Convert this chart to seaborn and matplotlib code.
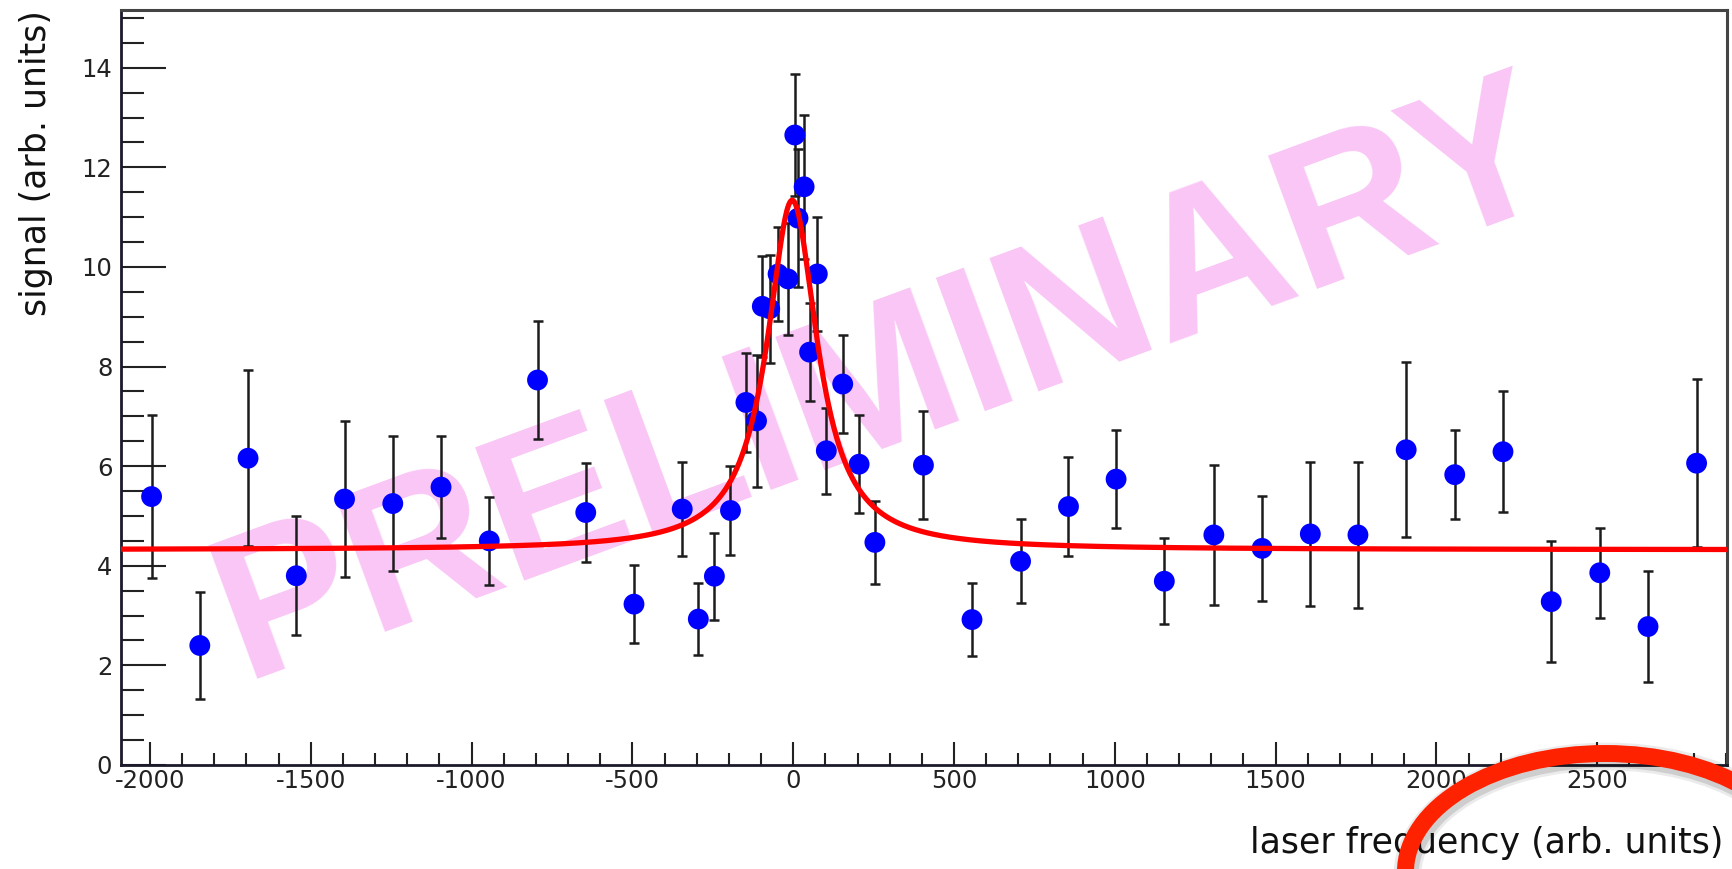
import numpy as np
import matplotlib
matplotlib.use("Agg")
import matplotlib.pyplot as plt
from matplotlib.patches import Ellipse
from matplotlib.ticker import MultipleLocator
import pandas as pd
import seaborn as sns

# ---------------- data ----------------
freq = [-1995, -1845, -1695, -1545, -1395, -1245, -1095, -945, -795, -645,
        -495, -345, -295, -245, -195, -147, -114, -96, -73, -47,
        -16, 5, 15, 34, 51, 75, 103, 154, 205, 254,
        405, 556, 707, 856, 1004, 1154, 1308, 1458, 1608, 1756,
        1906, 2057, 2207, 2357, 2508, 2658, 2809]
signal = [5.39, 2.40, 6.16, 3.80, 5.34, 5.25, 5.58, 4.50, 7.73, 5.07,
          3.23, 5.14, 2.93, 3.79, 5.11, 7.28, 6.91, 9.21, 9.16, 9.86,
          9.76, 12.65, 10.98, 11.61, 8.29, 9.86, 6.31, 7.65, 6.04, 4.47,
          6.02, 2.92, 4.09, 5.19, 5.74, 3.69, 4.62, 4.35, 4.64, 4.62,
          6.33, 5.83, 6.29, 3.28, 3.86, 2.78, 6.06]
signal_err = [1.63, 1.07, 1.77, 1.19, 1.56, 1.36, 1.02, 0.89, 1.19, 1.00,
              0.78, 0.95, 0.73, 0.87, 0.89, 1.00, 1.32, 1.02, 1.08, 0.94,
              1.13, 1.23, 1.39, 1.45, 0.98, 1.15, 0.86, 0.98, 0.98, 0.83,
              1.08, 0.74, 0.84, 0.99, 0.99, 0.86, 1.40, 1.05, 1.45, 1.46,
              1.76, 0.89, 1.21, 1.22, 0.90, 1.12, 1.69]

# Lorentzian fit parameters
fit_center = -3.0
fit_hwhm = 95.0
fit_amplitude = 7.02
fit_baseline = 4.32

x_ticks = [-2000, -1500, -1000, -500, 0, 500, 1000, 1500, 2000, 2500]
y_ticks = [0, 2, 4, 6, 8, 10, 12, 14]
x_range = (-2091, 2902)
y_range = (0, 15.16)

x_label = "laser frequency (arb. units)"
y_label = "signal (arb. units)"
watermark = "PRELIMINARY"

# ---------------- style ----------------
sns.set_theme(style="white")
plt.rcParams["font.family"] = ["DejaVu Sans"]
plt.rcParams["axes.unicode_minus"] = False

W_PX, H_PX = 1732, 869
fig = plt.figure(figsize=(W_PX / 100, H_PX / 100), dpi=100)
fig.patch.set_facecolor("white")

ax_l, ax_r, ax_t, ax_b = 120.7, 1726.5, 10.0, 765.0
ax = fig.add_axes([ax_l / W_PX, 1 - ax_b / H_PX, (ax_r - ax_l) / W_PX, (ax_b - ax_t) / H_PX])
ax.set_facecolor("white")

# watermark (behind everything)
wm_color = "#f9c6f6"
ax.text(243.0 / W_PX, 1 - 679.0 / H_PX, watermark, transform=fig.transFigure,
        fontsize=148, family="Liberation Sans", fontweight="bold", color=wm_color,
        rotation=20.2, rotation_mode="anchor", ha="left", va="baseline",
        zorder=0.5)

df = pd.DataFrame({"freq": freq, "signal": signal, "err": signal_err})

ax.errorbar(df["freq"], df["signal"], yerr=df["err"], fmt="none",
            ecolor="#1c1c1c", elinewidth=1.8, capsize=3.6, capthick=1.8, zorder=3)
sns.scatterplot(data=df, x="freq", y="signal", color="#0000ff", s=225,
                edgecolor="none", linewidth=0, zorder=4, ax=ax)

xs = np.linspace(x_range[0], x_range[1], 3000)
fit_df = pd.DataFrame({
    "freq": xs,
    "fit": fit_baseline + fit_amplitude * fit_hwhm ** 2 / ((xs - fit_center) ** 2 + fit_hwhm ** 2),
})
sns.lineplot(data=fit_df, x="freq", y="fit", color="#ff0000", linewidth=3.8,
             zorder=5, ax=ax, estimator=None)

ax.set_xlim(*x_range)
ax.set_ylim(*y_range)
ax.set_xticks(x_ticks)
ax.set_yticks(y_ticks)
ax.set_xticklabels([str(v) for v in x_ticks])
ax.set_yticklabels([str(v) for v in y_ticks])
ax.xaxis.set_minor_locator(MultipleLocator(100))
ax.yaxis.set_minor_locator(MultipleLocator(0.5))
ax.set_xlabel("")
ax.set_ylabel("")

ax.tick_params(axis="x", which="major", direction="in", length=16.5, width=1.5,
               color="#222222", labelsize=17.5, labelcolor="#222222", pad=3,
               top=False, bottom=True)
ax.tick_params(axis="x", which="minor", direction="in", length=8.6, width=1.5,
               color="#222222", top=False, bottom=True)
ax.tick_params(axis="y", which="major", direction="in", length=32.5, width=1.5,
               color="#222222", labelsize=17.5, labelcolor="#222222", pad=6,
               right=False, left=True)
ax.tick_params(axis="y", which="minor", direction="in", length=16.5, width=1.5,
               color="#222222", right=False, left=True)

for side in ["left", "bottom"]:
    ax.spines[side].set_color("#1a1a2a")
    ax.spines[side].set_linewidth(2.0)
for side in ["top", "right"]:
    ax.spines[side].set_color("#444444")
    ax.spines[side].set_linewidth(2.2)

# axis titles (ROOT style: right / top aligned)
fig.text(1723 / W_PX, 1 - 852.5 / H_PX, x_label, ha="right", va="baseline",
         fontsize=25, color="#111111")
fig.text(46.5 / W_PX, 1 - 10 / H_PX, y_label, ha="right", va="baseline",
         rotation=90, rotation_mode="anchor", fontsize=25, color="#111111")

# red hand-drawn ellipse annotation with soft shadow
cx, cy, rx, ry = 1605, 872, 199.5, 118.5
for lw, a in [(20, 0.08), (16, 0.12)]:
    fig.add_artist(Ellipse(((cx + 2) / W_PX, 1 - (cy + 3) / H_PX), 2 * rx / W_PX, 2 * ry / H_PX,
                           transform=fig.transFigure, fill=False, edgecolor="black",
                           linewidth=lw, alpha=a, clip_on=False, zorder=10))
fig.add_artist(Ellipse((cx / W_PX, 1 - cy / H_PX), 2 * rx / W_PX, 2 * ry / H_PX,
                       transform=fig.transFigure, fill=False, edgecolor="#ff2200",
                       linewidth=12.2, clip_on=False, zorder=11))

fig.savefig("out.png", dpi=100, facecolor="white")
